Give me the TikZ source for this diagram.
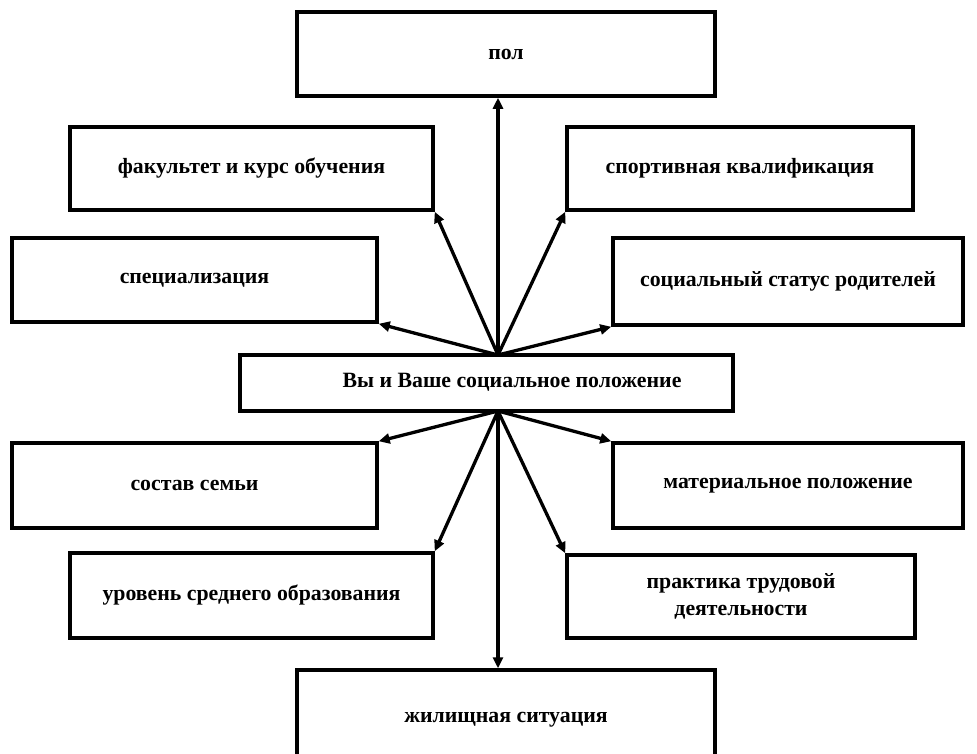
\documentclass[tikz,border=0pt]{standalone}
\usepackage{fontspec}
\setmainfont{Liberation Serif}
\usetikzlibrary{arrows.meta,calc}
\tikzset{
  box/.style={draw=black, line width=3.5pt, fill=white, inner sep=2pt, align=center,
    font=\fontsize{21.8}{27}\selectfont\bfseries},
  conn/.style={line width=3.3pt, -{Triangle[length=11pt,width=10pt]}},
}
\begin{document}
\begin{tikzpicture}[x=1pt,y=-1pt]
\useasboundingbox (0,0) rectangle (977,753);
\clip (0,0) rectangle (977,753);
\node[box, minimum width=418pt, minimum height=84pt] (pol) at (506,54) {пол};
\node[box, minimum width=363pt, minimum height=83pt] (fak) at (251.5,168.5) {факультет и курс обучения};
\node[box, minimum width=346pt, minimum height=83pt] (sport) at (740,168.5) {спортивная квалификация};
\node[box, minimum width=365pt, minimum height=84pt] (spec) at (194.5,280) {специализация};
\node[box, minimum width=350pt, minimum height=87pt] (stat) at (788,281.5) {социальный статус родителей};
\node[box, minimum width=493pt, minimum height=56pt] (c) at (486.5,383) {};
\node[font=\fontsize{21.8}{27}\selectfont\bfseries] (ctext) at (512,382) {Вы и Ваше социальное положение};
\node[box, minimum width=365pt, minimum height=85pt] (sost) at (194.5,485.5) {состав семьи};
\node[box, minimum width=350pt, minimum height=85pt] (mat) at (788,485.5) {материальное положение};
\node[box, minimum width=363pt, minimum height=85pt] (urov) at (251.5,595.5) {уровень среднего образования};
\node[box, minimum width=348pt, minimum height=83pt] (prak) at (741,596.5) {практика трудовой\\деятельности};
\node[box, minimum width=418pt, minimum height=100pt] (zhil) at (506,720) {жилищная ситуация};
\coordinate (ct) at (498,355);
\coordinate (cb) at (498,411);
\draw[conn] (ct) -- (pol.south -| ct);
\draw[conn] (ct) -- (fak.south east);
\draw[conn] (ct) -- (sport.south west);
\draw[conn] (ct) -- (spec.south east);
\draw[conn] (ct) -- (stat.south west);
\draw[conn] (cb) -- (sost.north east);
\draw[conn] (cb) -- (mat.north west);
\draw[conn] (cb) -- (urov.north east);
\draw[conn] (cb) -- (prak.north west);
\draw[conn] (cb) -- (zhil.north -| cb);
\end{tikzpicture}
\end{document}
